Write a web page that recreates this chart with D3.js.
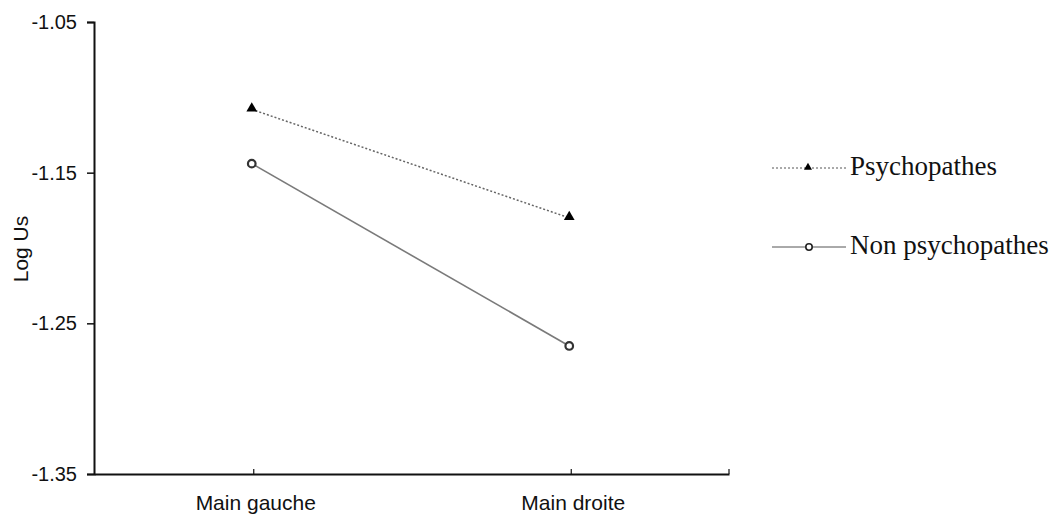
<!DOCTYPE html>
<html>
<head>
<meta charset="utf-8">
<script src="https://cdn.jsdelivr.net/npm/d3@7.9.0/dist/d3.min.js"></script>
<style>
  body { margin: 0; background: #fff; }
  svg { display: block; }
  .axis text { font-family: Arial, "Liberation Sans", sans-serif; fill: #111; }
  .legend text { font-family: "Times New Roman", "Liberation Serif", serif; font-size: 27px; fill: #111; }
</style>
</head>
<body>
<svg id="chart" width="1056" height="514"></svg>
<script>
// data
const categories = ['Main gauche', 'Main droite'];
const psychopathes = [-1.108, -1.180];
const nonPsychopathes = [-1.144, -1.265];
const yTicks = [-1.05, -1.15, -1.25, -1.35];

const svg = d3.select('#chart');
const plotLeft = 94, plotRight = 729, plotTop = 22, plotBottom = 474;

let x = d3.scaleBand().domain(categories).range([plotLeft, plotRight]);
let y = d3.scaleLinear().domain([-1.35, -1.05]).range([plotBottom, plotTop]);
let cx = (c) => x(c) + x.bandwidth() / 2 - 1;

// y axis
let yAxis = svg.append('g')
  .attr('class', 'axis')
  .attr('transform', `translate(${plotLeft},0)`)
  .call(d3.axisLeft(y).tickValues(yTicks).tickFormat((d) => d.toFixed(2)).tickSize(7).tickPadding(10));
yAxis.select('.domain').attr('stroke', '#111').attr('stroke-width', 2);
yAxis.selectAll('.tick line').attr('stroke', '#111').attr('stroke-width', 1.5);
yAxis.selectAll('.tick text').style('font-size', '20px');

// x axis: ticks point up, small
let xAxis = svg.append('g')
  .attr('class', 'axis')
  .attr('transform', `translate(0,${plotBottom})`)
  .call(d3.axisBottom(x).tickSize(0).tickPadding(21));
xAxis.select('.domain').attr('stroke', '#111').attr('stroke-width', 2);
xAxis.selectAll('.tick text').attr('dx', 3).style('font-size', '21px');
xAxis.selectAll('.tick line').remove();
categories.concat(['end']).forEach((c) => {
  let px = c === 'end' ? plotRight : cx(c) + 2;
  svg.append('line')
    .attr('x1', px).attr('x2', px)
    .attr('y1', plotBottom).attr('y2', plotBottom - 5)
    .attr('stroke', '#111').attr('stroke-width', 1.2);
});

svg.append('text')
  .attr('transform', `translate(28,${(plotTop + plotBottom) / 2 + 1}) rotate(-90)`)
  .attr('text-anchor', 'middle')
  .attr('font-family', 'Arial, "Liberation Sans", sans-serif')
  .attr('font-size', 21)
  .attr('fill', '#111')
  .text('Log Us');

let line = d3.line().x((d, i) => cx(categories[i])).y((d) => y(d));

// psychopathes: dotted line, filled triangles
svg.append('path')
  .datum(psychopathes)
  .attr('d', line)
  .attr('fill', 'none')
  .attr('stroke', '#666')
  .attr('stroke-width', 1.5)
  .attr('stroke-dasharray', '2,2');

let tri = d3.symbol().type(d3.symbolTriangle).size(50);
svg.selectAll('.tri')
  .data(psychopathes)
  .join('path')
  .attr('class', 'tri')
  .attr('d', tri)
  .attr('transform', (d, i) => `translate(${cx(categories[i])},${y(d) - 1})`)
  .attr('fill', '#000');

// non psychopathes: solid line, open circles
svg.append('path')
  .datum(nonPsychopathes)
  .attr('d', line)
  .attr('fill', 'none')
  .attr('stroke', '#7a7a7a')
  .attr('stroke-width', 1.6);

svg.selectAll('.circ')
  .data(nonPsychopathes)
  .join('circle')
  .attr('class', 'circ')
  .attr('cx', (d, i) => cx(categories[i]))
  .attr('cy', (d) => y(d))
  .attr('r', 3.8)
  .attr('fill', '#fff')
  .attr('stroke', '#333')
  .attr('stroke-width', 2.2);

// legend
let legend = svg.append('g').attr('class', 'legend');
let legendItems = [
  { label: 'Psychopathes', y: 168, dash: '2,2', color: '#555', mark: 'tri' },
  { label: 'Non psychopathes', y: 247, dash: null, color: '#555', mark: 'circ' }
];
legendItems.forEach((d) => {
  legend.append('line')
    .attr('x1', 772).attr('x2', 846)
    .attr('y1', d.y).attr('y2', d.y)
    .attr('stroke', d.color)
    .attr('stroke-width', 1)
    .attr('stroke-dasharray', d.dash);
  if (d.mark === 'tri') {
    legend.append('path')
      .attr('d', d3.symbol().type(d3.symbolTriangle).size(28))
      .attr('transform', `translate(808,${d.y - 0.5})`)
      .attr('fill', '#000');
  } else {
    legend.append('circle')
      .attr('cx', 809).attr('cy', d.y).attr('r', 3.2)
      .attr('fill', '#fff').attr('stroke', '#222').attr('stroke-width', 1.6);
  }
  legend.append('text')
    .attr('x', 850)
    .attr('y', d.y + 7)
    .text(d.label);
});
</script>
</body>
</html>
